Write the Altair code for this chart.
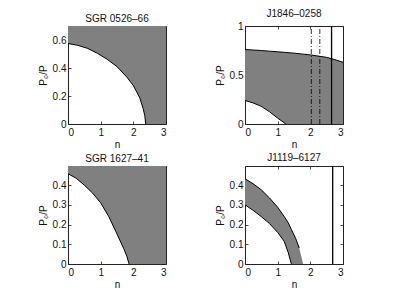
import altair as alt
import pandas as pd

FONT = "Liberation Sans"

# SGR 0526-66
n1 = [0, 0.3, 0.6, 0.9, 1.2, 1.5, 1.8, 2.0, 2.2, 2.3, 2.35, 2.38, 3.0]
p1 = [0.575, 0.562, 0.540, 0.505, 0.462, 0.410, 0.335, 0.275, 0.185, 0.11, 0.06, 0.0, 0.0]

# J1846-0258
n2 = [0, 0.25, 0.5, 0.75, 1.0, 1.25, 1.5, 2.0, 2.5, 2.75, 3.0]
hi2 = [0.76, 0.755, 0.75, 0.743, 0.737, 0.73, 0.723, 0.705, 0.68, 0.657, 0.63]
lo2 = [0.24, 0.215, 0.18, 0.125, 0.06, 0.0, 0.0, 0.0, 0.0, 0.0, 0.0]
dash2 = [2.03, 2.29]
solid2 = [2.65]

# SGR 1627-41
n3 = [0, 0.25, 0.5, 0.75, 1.0, 1.25, 1.5, 1.7, 1.8, 1.87, 3.0]
p3 = [0.458, 0.435, 0.40, 0.36, 0.31, 0.24, 0.152, 0.08, 0.04, 0.0, 0.0]

# J1119-6127
n4 = [0, 0.25, 0.5, 0.75, 1.0, 1.2, 1.32, 1.42, 1.55, 1.66, 1.78]
hi4 = [0.432, 0.407, 0.376, 0.335, 0.288, 0.241, 0.21, 0.175, 0.13, 0.081, 0.0]
lo4 = [0.30, 0.272, 0.24, 0.205, 0.16, 0.115, 0.06, 0.0, 0.0, 0.0, 0.0]
solid4 = [2.684]

GRAY = "#808080"
W = H = 98


def axes(ymax, yticks):
    xs = alt.Scale(domain=[0, 3], nice=False, zero=False)
    ys = alt.Scale(domain=[0, ymax], nice=False, zero=False)
    xa = alt.Axis(values=[0, 1, 2, 3], offset=-3, tickSize=3, domain=False, grid=False,
                  labelPadding=3, title="n", titlePadding=2, format="~g")
    ya = alt.Axis(values=yticks, offset=-3, tickSize=3, domain=False, grid=False,
                  labelPadding=2, title="P₀/P", titlePadding=4, format="~g")
    xt = alt.Axis(values=[0, 1, 2, 3], orient="top", offset=-3, tickSize=3, domain=False,
                  grid=False, labels=False, title=None)
    yr = alt.Axis(values=yticks, orient="right", offset=-3, tickSize=3, domain=False,
                  grid=False, labels=False, title=None)
    return xs, ys, xa, ya, xt, yr


def single_panel(title, ns, ps, ymax, yticks):
    xs, ys, xa, ya, xt, yr = axes(ymax, yticks)
    df = pd.DataFrame({"n": ns, "p": ps})
    area = alt.Chart(df).transform_calculate(top=str(ymax)).mark_area(
        color=GRAY, opacity=1).encode(
        x=alt.X("n:Q", scale=xs, axis=xa),
        y=alt.Y("p:Q", scale=ys, axis=ya),
        y2="top:Q",
    )
    line = alt.Chart(df).transform_filter("datum.p > 0 || datum.n < 2.5").mark_line(
        color="black", strokeWidth=1).encode(
        x=alt.X("n:Q", scale=xs, axis=xt),
        y=alt.Y("p:Q", scale=ys, axis=yr),
    )
    return alt.layer(area, line).resolve_axis(x="independent", y="independent").properties(
        width=W, height=H, title=title)


def band_panel(title, ns, lo, hi, ymax, yticks, dashed, solid):
    xs, ys, xa, ya, xt, yr = axes(ymax, yticks)
    df = pd.DataFrame({"n": ns, "lo": lo, "hi": hi})
    area = alt.Chart(df).mark_area(color=GRAY, opacity=1).encode(
        x=alt.X("n:Q", scale=xs, axis=xa),
        y=alt.Y("lo:Q", scale=ys, axis=ya),
        y2="hi:Q",
    )
    hline = alt.Chart(df).transform_filter("datum.hi > 0 || datum.n < 0.1").mark_line(
        color="black", strokeWidth=1).encode(
        x=alt.X("n:Q", scale=xs, axis=xt),
        y=alt.Y("hi:Q", scale=ys, axis=yr),
    )
    lodf = df[(df["lo"] > 0) | (df["lo"].shift(1) > 0)]
    lline = alt.Chart(lodf).mark_line(color="black", strokeWidth=1).encode(
        x=alt.X("n:Q", scale=xs, axis=None),
        y=alt.Y("lo:Q", scale=ys, axis=None),
    )
    layers = [area, hline, lline]
    if dashed:
        layers.append(alt.Chart(pd.DataFrame({"n": dashed})).mark_rule(
            color="black", strokeWidth=0.8, strokeDash=[5, 2, 1, 2]).encode(
            x=alt.X("n:Q", scale=xs, axis=None),
            y=alt.datum(0, scale=ys, axis=None),
            y2=alt.datum(ymax)))
    if solid:
        layers.append(alt.Chart(pd.DataFrame({"n": solid})).mark_rule(
            color="black", strokeWidth=1.3).encode(
            x=alt.X("n:Q", scale=xs, axis=None),
            y=alt.datum(0, scale=ys, axis=None),
            y2=alt.datum(ymax)))
    return alt.layer(*layers).resolve_axis(x="independent", y="independent").properties(
        width=W, height=H, title=title)


p_1 = single_panel("SGR 0526–66", n1, p1, 0.7, [0, 0.2, 0.4, 0.6])
p_2 = band_panel("J1846–0258", n2, lo2, hi2, 1.0, [0, 0.5, 1], dash2, solid2)
p_3 = single_panel("SGR 1627–41", n3, p3, 0.497, [0, 0.1, 0.2, 0.3, 0.4])
p_4 = band_panel("J1119–6127", n4, lo4, hi4, 0.497, [0, 0.1, 0.2, 0.3, 0.4], [], solid4)

chart = alt.vconcat(
    alt.hconcat(p_1, p_2, spacing=47),
    alt.hconcat(p_3, p_4, spacing=47),
    spacing=2,
).properties(
    padding={"left": 29, "top": 0, "right": 5, "bottom": 5}
).configure_view(
    stroke="#222222", strokeWidth=1
).configure_axis(
    labelFont=FONT, titleFont=FONT, labelFontSize=10, titleFontSize=10,
    titleFontWeight="normal", labelColor="#111111", titleColor="#111111",
    tickColor="#222222", tickWidth=0.8
).configure_title(
    font=FONT, fontSize=10, fontWeight="normal", color="#111111", offset=2
)

chart.save("out.html", embed_options={"renderer": "svg", "actions": False})
